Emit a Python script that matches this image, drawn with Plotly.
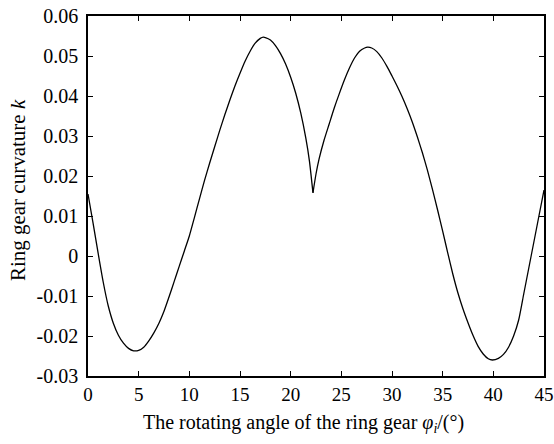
import plotly.graph_objects as go

# Rotating angle of the ring gear (deg) and ring gear curvature k
angle = [0, 0.5, 1.0, 1.5, 2.0, 2.5, 3.0, 3.5, 4.0, 4.5, 5.0, 5.5, 6.0, 6.5, 7.0, 7.5,
         8.0, 8.5, 9.0, 9.5, 10.0, 10.5, 11.0, 11.5, 12.0, 12.5, 13.0, 13.5, 14.0, 14.5,
         15.0, 15.5, 16.0, 16.5, 17.0, 17.3, 17.5, 18.0, 18.5, 19.0, 19.5, 20.0, 20.5,
         21.0, 21.5, 21.85, 22.2, 22.5, 22.8, 23.3, 23.8, 24.3, 24.8, 25.3, 25.8, 26.3,
         26.8, 27.3, 27.6, 28.0, 28.5, 29.0, 29.5, 30.0, 30.5, 31.0, 31.5, 32.0, 32.5,
         33.0, 33.5, 34.0, 34.5, 35.0, 35.5, 36.0, 36.5, 37.0, 37.5, 38.0, 38.5, 39.0,
         39.5, 39.9, 40.5, 41.0, 41.5, 42.0, 42.5, 43.0, 43.5, 44.0, 44.5, 45.0]
curvature = [0.0155, 0.0082, 0.0007, -0.0065, -0.0125, -0.0168, -0.0198, -0.0218,
             -0.0231, -0.0237, -0.0236, -0.0228, -0.0212, -0.0192, -0.0168, -0.0138,
             -0.0102, -0.0064, -0.0026, 0.0012, 0.0050, 0.0096, 0.0143, 0.0189, 0.0232,
             0.0273, 0.0314, 0.0353, 0.0390, 0.0425, 0.0457, 0.0487, 0.0512, 0.0532,
             0.0544, 0.0547, 0.0546, 0.0540, 0.0526, 0.0506, 0.0480, 0.0447, 0.0407,
             0.0357, 0.0294, 0.0238, 0.0158, 0.0205, 0.0242, 0.0290, 0.0330, 0.0370,
             0.0406, 0.0440, 0.0470, 0.0495, 0.0512, 0.0520, 0.0522, 0.0520, 0.0511,
             0.0495, 0.0474, 0.0450, 0.0425, 0.0398, 0.0368, 0.0335, 0.0298, 0.0258,
             0.0214, 0.0166, 0.0115, 0.0062, 0.0008, -0.0045, -0.0092, -0.0132,
             -0.0167, -0.0199, -0.0226, -0.0245, -0.0257, -0.0260, -0.0256, -0.0246,
             -0.0228, -0.0200, -0.0160, -0.0095, -0.0030, 0.0035, 0.0100, 0.0165]

x_ticks = [0, 5, 10, 15, 20, 25, 30, 35, 40, 45]
y_ticks = [0.06, 0.05, 0.04, 0.03, 0.02, 0.01, 0, -0.01, -0.02, -0.03]
y_tick_text = ["0.06", "0.05", "0.04", "0.03", "0.02", "0.01", "0", "-0.01", "-0.02", "-0.03"]

FONT = "Liberation Serif, Times New Roman, serif"

# split at the cusp so each smooth branch can be drawn as a spline
cusp = curvature.index(min(curvature[30:60]))

fig = go.Figure()
for xs, ys in ((angle[:cusp + 1], curvature[:cusp + 1]), (angle[cusp:], curvature[cusp:])):
    fig.add_trace(go.Scatter(x=xs, y=ys, mode="lines",
                             line=dict(color="black", width=1.3, shape="spline", smoothing=0.6),
                             showlegend=False, hoverinfo="x+y"))

axis_common = dict(showline=True, linecolor="black", linewidth=1.5, mirror="ticks",
                   ticks="inside", ticklen=5, tickcolor="black", tickwidth=1,
                   showgrid=False, zeroline=False, automargin=False,
                   ticklabeloverflow="allow")

fig.update_xaxes(range=[0, 45], tickvals=x_ticks, ticklabelstandoff=0,
                 tickfont=dict(family=FONT, size=19, color="black"), **axis_common)
fig.update_yaxes(range=[-0.03, 0.06], tickvals=y_ticks, ticktext=y_tick_text,
                 ticklabelstandoff=4,
                 tickfont=dict(family=FONT, size=20, color="black"), **axis_common)

fig.add_annotation(text="The rotating angle of the ring gear <i>φ</i><sub><i>i</i></sub>/(°)",
                   xref="paper", yref="paper", x=0.472, y=-0.133,
                   xanchor="center", yanchor="middle", showarrow=False,
                   font=dict(family=FONT, size=20, color="black"))
fig.add_annotation(text="Ring gear curvature <i>k</i>",
                   xref="paper", yref="paper", x=-0.153, y=0.517,
                   xanchor="center", yanchor="middle", showarrow=False, textangle=-90,
                   font=dict(family=FONT, size=21, color="black"))

fig.update_layout(width=554, height=444, plot_bgcolor="white", paper_bgcolor="white",
                  margin=dict(l=88, r=10, t=16, b=68))

# remove the browser's default 8 px body margin so the figure fills the window
fig.write_html("out.html", config={"displayModeBar": False},
               post_script="document.body.style.margin='0px';")
